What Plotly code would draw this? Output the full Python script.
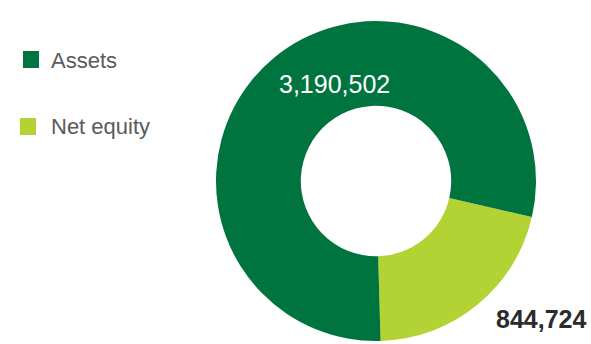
import plotly.graph_objects as go

# Balance sheet split
categories = ["Net equity", "Assets"]
values = [844724, 3190502]
colors = ["#B3D335", "#00743F"]

W, H = 591, 344

fig = go.Figure()
fig.add_trace(go.Pie(
    labels=categories,
    values=values,
    hole=0.47,
    sort=False,
    direction="clockwise",
    rotation=103,
    marker=dict(colors=colors, line=dict(width=0)),
    textinfo="none",
    hoverinfo="label+value",
    showlegend=False,
    domain=dict(x=[(376 - 160) / W, (376 + 160) / W],
                y=[1 - 341 / H, 1 - 21 / H]),
))

vals = dict(zip(categories, values))
num_font = "Liberation Sans, Arial, sans-serif"

# value labels
fig.add_annotation(x=334.5 / W, y=1 - 84 / H, xref="paper", yref="paper",
                   text=f"{vals['Assets']:,}", showarrow=False,
                   xanchor="center", yanchor="middle",
                   font=dict(family=num_font, size=25, color="#FFFFFF"))
fig.add_annotation(x=588 / W, y=1 - 319 / H, xref="paper", yref="paper",
                   text=f"<b>{vals['Net equity']:,}</b>", showarrow=False,
                   xanchor="right", yanchor="middle",
                   font=dict(family=num_font, size=25, color="#2B2B2B"))

# legend: swatch + label
legend_rows = [("Assets", 23, 51, 61), ("Net equity", 20, 118, 126)]
for name, x0, y0, yc in legend_rows:
    fig.add_shape(type="rect", xref="paper", yref="paper",
                  x0=x0 / W, x1=(x0 + 16) / W,
                  y0=1 - (y0 + 17) / H, y1=1 - y0 / H,
                  fillcolor=colors[categories.index(name)], line=dict(width=0))
    fig.add_annotation(x=49 / W, y=1 - yc / H, xref="paper", yref="paper",
                       text=name, showarrow=False,
                       xanchor="left", yanchor="middle",
                       font=dict(family="Liberation Sans, Arial, sans-serif",
                                 size=22, color="#5A5A5A"))

fig.update_layout(
    width=W, height=H,
    margin=dict(l=0, r=0, t=0, b=0),
    paper_bgcolor="#FFFFFF",
    plot_bgcolor="#FFFFFF",
)

fig.write_html("out.html")
